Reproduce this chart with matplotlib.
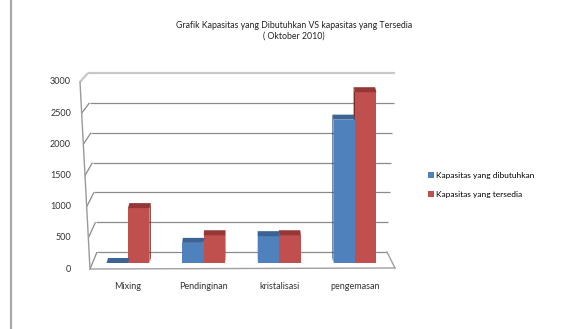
import matplotlib
matplotlib.use("Agg")
import matplotlib.pyplot as plt
from matplotlib.patches import Polygon, Patch
import numpy as np

plt.rcParams['font.family'] = ['Lato', 'DejaVu Sans']

# ---- data ----
categories = ["Mixing", "Pendinginan", "kristalisasi", "pengemasan"]
dibutuhkan = [0, 330, 440, 2350]
tersedia = [900, 455, 455, 2800]
series_names = ["Kapasitas yang dibutuhkan", "Kapasitas yang tersedia"]
yticks = [0, 500, 1000, 1500, 2000, 2500, 3000]
title = "Grafik Kapasitas yang Dibutuhkan VS kapasitas yang Tersedia\n( Oktober 2010)"

W, H = 564, 329
fig = plt.figure(figsize=(W / 100, H / 100), dpi=100)

# background axes in pixel space for the 3D frame
bg = fig.add_axes([0, 0, 1, 1])
bg.set_xlim(0, W)
bg.set_ylim(H, 0)
bg.axis('off')

YMAX = 3000.0
def y_back(v):
    return 252 - v * (179 / YMAX)
def y_front(v):
    return 269 - v * (187 / YMAX)
def xl_back(v):
    return 97 - 9 * v / YMAX
def xl_front(v):
    return 90 - 10 * v / YMAX
def xr_back(v):
    return 387 + 8 * v / YMAX

grid_col = '#8a8a8a'
for v in yticks:
    col = '#c8c8c8' if v == YMAX else grid_col
    lw = 1.6 if v == YMAX else 0.9
    bg.plot([xl_front(v), xl_back(v)], [y_front(v), y_back(v)], color=col, lw=lw, solid_capstyle='butt')
    bg.plot([xl_back(v), xr_back(v)], [y_back(v), y_back(v)], color=col, lw=lw, solid_capstyle='butt')
    bg.text(71, y_front(v), f"{v}", ha='right', va='center', fontsize=6.5, color='#333333')

# left wall front edge
bg.plot([xl_front(0), xl_front(YMAX)], [y_front(0), y_front(YMAX)], color='#9a9a9a', lw=1.0)
# floor front & right edge
bg.plot([xl_front(0), 395], [y_front(0), 268], color='#a0a0a0', lw=1.0)
bg.plot([xr_back(0), 395], [y_back(0), 268], color='#a0a0a0', lw=1.0)
# outer left border
bg.plot([11, 11], [0, H], color='#a8a8a8', lw=1.6)

# title
bg.text(294, 30.5, title, ha='center', va='center', fontsize=6.3, color='#222222', linespacing=1.2)

# bars axes: value 0 at y=263 px, 3000 at y=80 px
x_left_px, x_right_px = 90, 395
y0_px, ytop_px = 263, 80
ax = fig.add_axes([x_left_px / W, (H - y0_px) / H, (x_right_px - x_left_px) / W, (y0_px - ytop_px) / H])
ax.patch.set_alpha(0)
step_px = 75.67
x = np.arange(len(categories))
ax.set_xlim(-(128 - x_left_px) / step_px, 3 + (x_right_px - 355) / step_px)
ax.set_ylim(0, YMAX)
for s in ax.spines.values():
    s.set_visible(False)
ax.set_yticks([])

bw = 0.284
front_cols = ['#4f81bd', '#c0504d']
cap_cols = ['#3b6495', '#953735']
side_cols = ['#2c4c72', '#7a2c2a']

ax_w_px = x_right_px - x_left_px
ax_h_px = y0_px - ytop_px
xr = ax.get_xlim()[1] - ax.get_xlim()[0]
px_x = xr / ax_w_px
px_y = YMAX / ax_h_px

for si, vals in enumerate([dibutuhkan, tersedia]):
    pos = x + (si - 0.5) * bw
    ax.bar(pos, vals, width=bw, color=front_cols[si], edgecolor='none', zorder=3)
    for p, v in zip(pos, vals):
        ddx = (1.6 - p) * 0.012 * 75.67 * px_x
        ddy = 5 * px_y
        x0, x1 = p - bw / 2, p + bw / 2
        cap = Polygon([(x0, v), (x1, v), (x1 + ddx, v + ddy), (x0 + ddx, v + ddy)],
                      closed=True, facecolor=cap_cols[si], edgecolor='none', zorder=4)
        ax.add_patch(cap)
        if ddx > 0:
            side = Polygon([(x1, 0), (x1, v), (x1 + ddx, v + ddy), (x1 + ddx, ddy)],
                           closed=True, facecolor=side_cols[si], edgecolor='none', zorder=2)
        else:
            side = Polygon([(x0, 0), (x0, v), (x0 + ddx, v + ddy), (x0 + ddx, ddy)],
                           closed=True, facecolor=side_cols[si], edgecolor='none', zorder=2)
        ax.add_patch(side)

ax.set_xticks(x)
ax.set_xticklabels(categories, fontsize=6.5, color='#333333')
ax.tick_params(axis='x', length=0, pad=14)

handles = [Patch(facecolor=front_cols[i], edgecolor='none') for i in range(2)]
fig.legend(handles, series_names, loc='center left', bbox_to_anchor=(428 / W, 1 - 185 / H),
           frameon=False, fontsize=6, handlelength=0.7, handleheight=0.7,
           handletextpad=0.3, labelspacing=1.4, borderpad=0, borderaxespad=0)

fig.savefig('out.png', dpi=100)
